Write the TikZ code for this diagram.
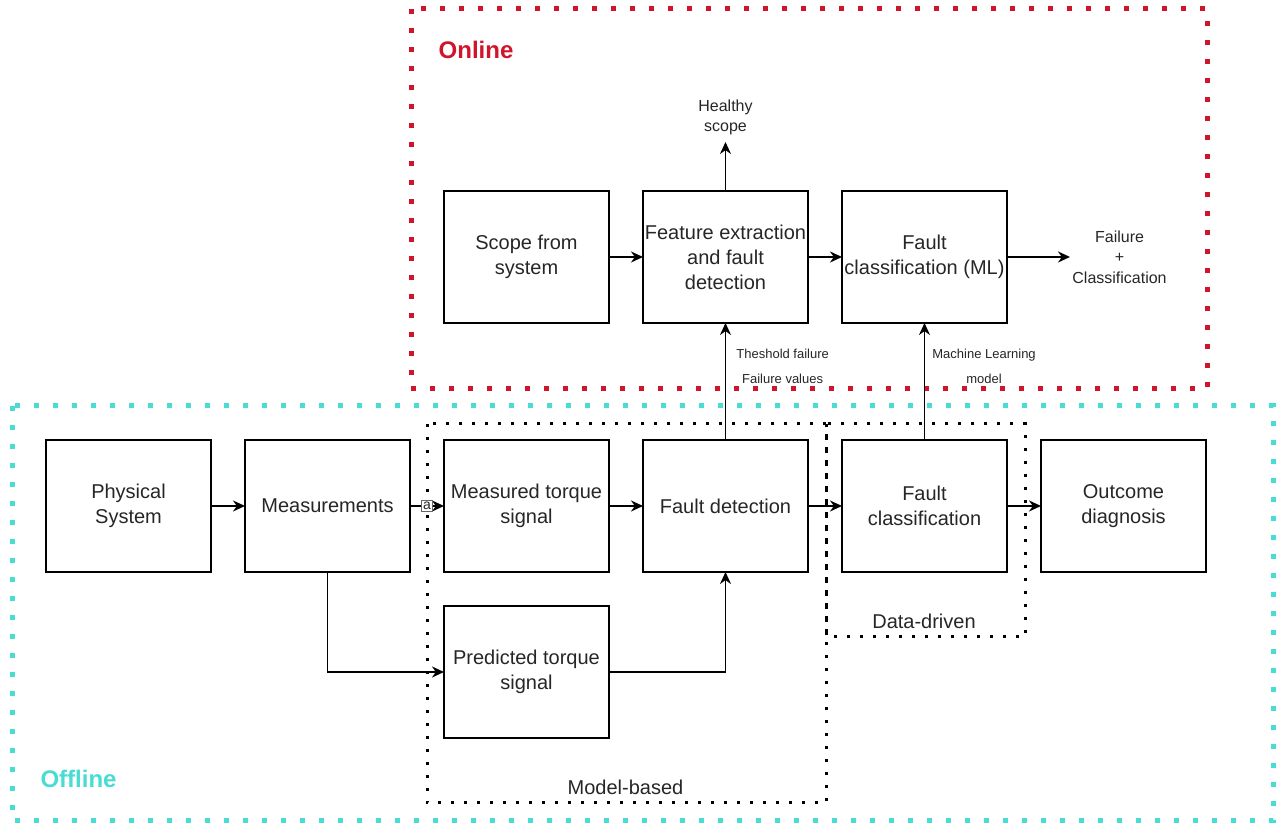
\documentclass[tikz,border=0pt]{standalone}
\usepackage{fontspec}
\setmainfont{Liberation Sans}
\usetikzlibrary{positioning,arrows.meta}
\definecolor{onlinered}{RGB}{207,20,43}
\definecolor{offlinecyan}{RGB}{72,220,210}

\begin{document}
\begin{tikzpicture}[x=1pt,y=1pt,>={Stealth[length=6pt,width=5.5pt]},
    node distance=17pt,
    block/.style={draw, line width=1pt, minimum width=82.5pt, minimum height=66pt,
        inner xsep=0pt, outer sep=0pt,
        align=center, font=\fontsize{10}{12.5}\selectfont, text=black!85},
    flow/.style={->, line width=0.9pt},
    outlabel/.style={align=center, font=\fontsize{8}{10.2}\selectfont, text=black!85},
    tinylabel/.style={align=center, font=\fontsize{6.5}{12.5}\selectfont, text=black!85, inner sep=0pt},
    areatitle/.style={font=\fontsize{12}{14}\selectfont\bfseries},
    grouplabel/.style={font=\fontsize{10}{12}\selectfont, text=black!85}]

	\useasboundingbox (0,0) rectangle (641,-414);

	% dotted areas
	\draw[onlinered, line width=2.5pt, dash pattern=on 2.5pt off 7pt] (205.5,-4.5) rectangle (603.5,-194.5);
	\draw[offlinecyan, line width=2.5pt, dash pattern=on 2.5pt off 7pt] (6,-203) rectangle (636.5,-410.5);
	\draw[line width=1.5pt, dash pattern=on 1.5pt off 5pt] (213.5,-212) rectangle (413,-401.5);
	\draw[line width=1.5pt, dash pattern=on 1.5pt off 5pt] (413,-212) rectangle (512.5,-318.5);

	\node[areatitle, text=onlinered] (online) at (238,-25) {Online};
	\node[areatitle, text=offlinecyan] (offline) at (39.25,-389.5) {Offline};
	\node[grouplabel] (modelbased) at (312.75,-393.5) {Model-based};
	\node[grouplabel] (datadriven) at (462,-310.5) {Data-driven};

	% offline chain
	\node[block] (physical) at (64.25,-253) {Physical\\System};
	\node[block, right=of physical] (meas) {Measurements};
	\node[block, right=of meas] (measured) {Measured torque\\signal};
	\node[block, right=of measured] (faultdet) {Fault detection};
	\node[block, right=of faultdet] (faultclass) {Fault\\classification};
	\node[block, right=of faultclass] (outcome) {Outcome\\diagnosis};
	\node[block, below=of measured] (predicted) {Predicted torque\\signal};

	% online chain
	\node[block, above=58.5pt of measured] (scope) {Scope from\\system};
	\node[block, right=of scope] (feature) {Feature extraction\\and fault\\detection};
	\node[block, right=of feature] (mlclass) {Fault\\classification (ML)};
	\node[outlabel, above=24.5pt of feature] (healthy) {Healthy\\scope};
	\node[outlabel, right=31.5pt of mlclass, inner sep=1pt] (failure) {Failure\\+\\Classification};

	\draw[flow] (physical) -- (meas);
	\draw[flow] (meas) -- (measured)
		node[midway, draw=black!60, line width=0.3pt, fill=white, inner sep=0.8pt,
		font=\fontsize{7}{7}\selectfont, text=black!85] (alabel) {a};
	\draw[flow] (measured) -- (faultdet);
	\draw[flow] (faultdet) -- (faultclass);
	\draw[flow] (faultclass) -- (outcome);
	\draw[flow] (meas) |- (predicted);
	\draw[flow] (predicted) -| (faultdet);

	\draw[flow] (scope) -- (feature);
	\draw[flow] (feature) -- (mlclass);
	\draw[flow] (feature) -- (healthy);
	\draw[flow] (mlclass) -- (failure);

	\draw[flow] (faultdet) -- (feature)
		node[tinylabel, pos=0.63, right=5pt] (threshold) {Theshold failure\\Failure values};
	\draw[flow] (faultclass) -- (mlclass)
		node[tinylabel, pos=0.63, right=3.5pt] (mlmodel) {Machine Learning\\model};
\end{tikzpicture}
\end{document}
